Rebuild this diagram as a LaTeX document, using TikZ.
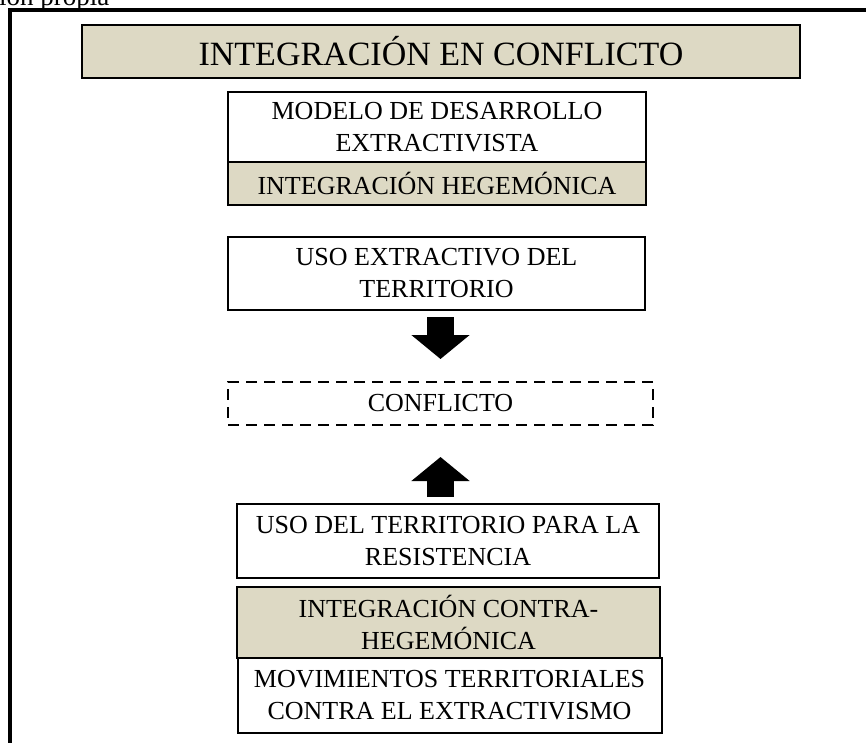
\documentclass[tikz,border=0pt]{standalone}
\usepackage{fontspec}
\setmainfont{Liberation Serif}
\usetikzlibrary{arrows.meta}
\definecolor{tanfill}{RGB}{221,217,196}

\begin{document}
\begin{tikzpicture}[x=1pt, y=-1pt,
    caja/.style={draw, line width=2pt, align=center, inner sep=0pt,
        font=\fontsize{26}{32}\selectfont},
    cajatan/.style={caja, fill=tanfill},
    cajarayas/.style={caja, dash pattern=on 11pt off 7pt},
    flecha/.style={line width=27pt, -{Triangle[width=57pt, length=24pt]}}]
        \useasboundingbox (0,0) rectangle (866,742);
        \node[anchor=base west, inner sep=0pt, font=\fontsize{27}{32}\selectfont] (fuente) at (-1,5) {ión propia};
        \draw[line width=3.5pt] (10,750) -- (10,10) -- (875,10);
        \node[cajatan, minimum width=718pt, minimum height=53pt, font=\fontsize{34}{40}\selectfont] (titulo) at (441,51.5) {INTEGRACIÓN EN CONFLICTO};
        \node[caja, minimum width=418pt, minimum height=70pt] (modelo) at (437,127) {MODELO DE DESARROLLO\\EXTRACTIVISTA};
        \node[cajatan, minimum width=418pt, minimum height=43pt] (hegem) at (437,183.5) {INTEGRACIÓN HEGEMÓNICA};
        \node[caja, minimum width=417pt, minimum height=73pt] (extract) at (436.5,273.5) {USO EXTRACTIVO DEL\\TERRITORIO};
        \node[cajarayas, minimum width=425pt, minimum height=43pt] (conflicto) at (440.5,403.5) {CONFLICTO};
        \node[caja, minimum width=422pt, minimum height=74pt] (resist) at (448,541) {USO DEL TERRITORIO PARA LA\\RESISTENCIA};
        \node[cajatan, minimum width=423pt, minimum height=71pt] (contra) at (448.5,622.5) {INTEGRACIÓN CONTRA-\\HEGEMÓNICA};
        \node[caja, minimum width=424pt, minimum height=75pt] (movim) at (449.5,695.5) {MOVIMIENTOS TERRITORIALES\\CONTRA EL EXTRACTIVISMO};
        \draw[flecha, shorten <=6pt, shorten >=22pt] (extract.south -| conflicto.north) -- (conflicto.north);
        \draw[flecha, shorten <=6pt, shorten >=31pt] (resist.north -| conflicto.south) -- (conflicto.south);
    \end{tikzpicture}
\end{document}
